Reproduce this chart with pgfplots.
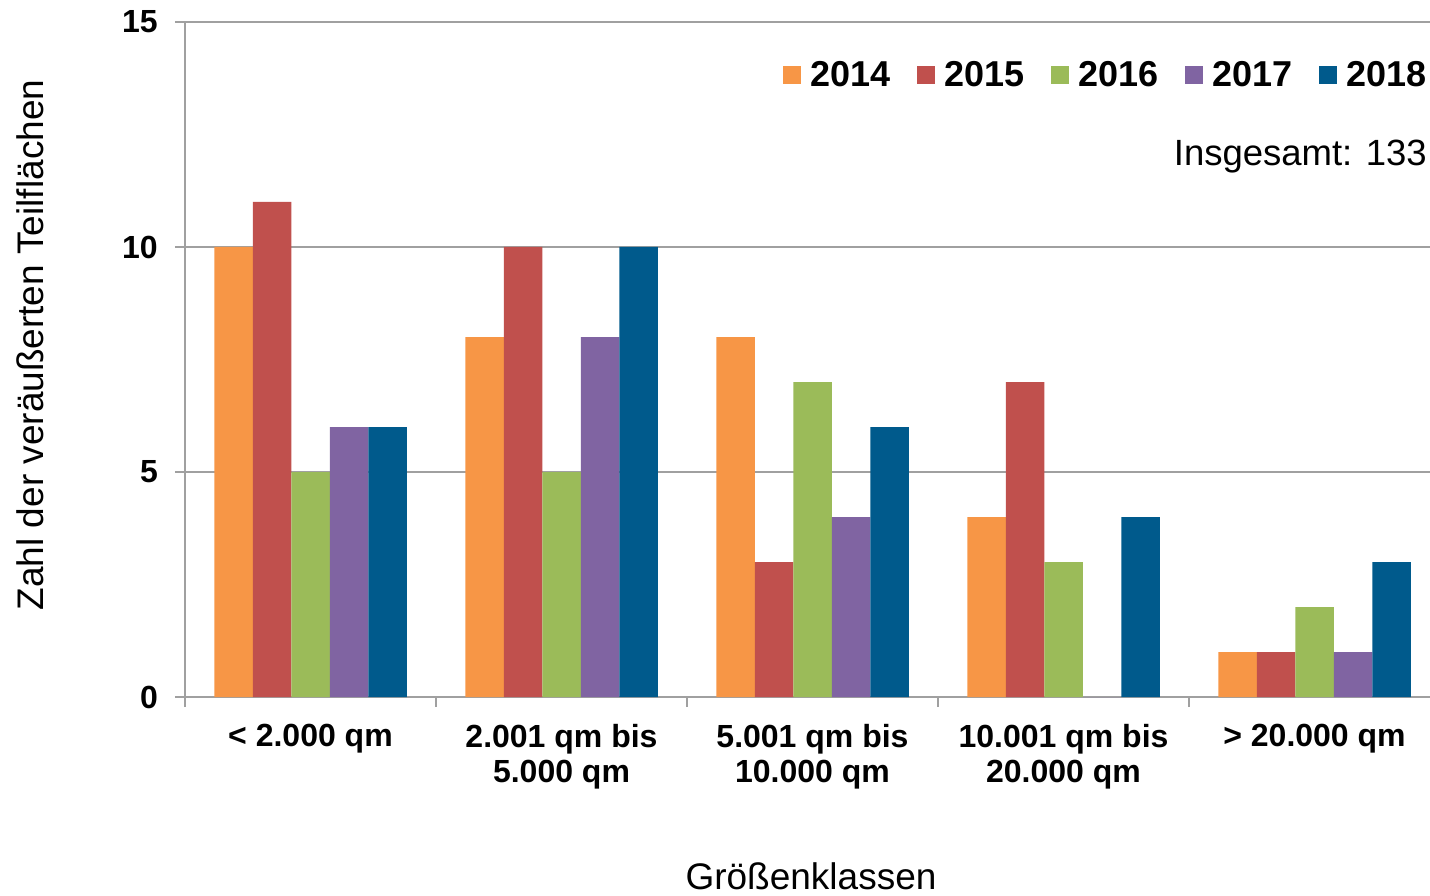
\documentclass[border=0pt]{standalone}
\usepackage{pgfplots}
\pgfplotsset{compat=1.18}
\usepackage{fontspec}
\setmainfont{Liberation Sans}
\definecolor{c14}{HTML}{F79646}
\definecolor{c15}{HTML}{C0504D}
\definecolor{c16}{HTML}{9BBB59}
\definecolor{c17}{HTML}{8064A2}
\definecolor{c18}{HTML}{005A8C}
\definecolor{gridgray}{HTML}{A0A0A0}
\begin{document}
\begin{tikzpicture}
\begin{axis}[
  at={(0pt,0pt)}, anchor=south west,
  scale only axis, width=1245pt, height=675pt,
  xmin=-0.5, xmax=4.46, ymin=0, ymax=15,
  ybar=0pt, bar width=38.5pt,
  axis x line=bottom, axis y line=left,
  axis line style={-, draw=gridgray, line width=1.5pt},
  ytick={0,5,10,15}, yticklabels={0,5,10,15},
  minor ytick={0,5,10,15},
  xtick={0,1,2,3,4},
  xticklabels={{< 2.000 qm},{2.001 qm bis\\5.000 qm},{5.001 qm bis\\10.000 qm},{10.001 qm bis\\20.000 qm},{> 20.000 qm}},
  minor xtick={-0.5,0.5,1.5,2.5,3.5},
  major tick length=0pt, minor tick length=10pt, tick align=outside,
  tick style={draw=gridgray, line width=1.5pt},
  ymajorgrids, major grid style={draw=gridgray, line width=1.5pt},
  xticklabel style={font=\fontsize{32}{35}\selectfont\bfseries, align=center, inner sep=0pt, anchor=north, yshift=-27pt},
  yticklabel style={font=\fontsize{32}{35}\selectfont\bfseries, anchor=east, inner sep=0pt, xshift=-27pt},
  ylabel={Zahl der veräußerten Teilflächen},
  ylabel style={font=\fontsize{37}{40}\selectfont, at={(axis description cs:-0.1140,0.5215)}, anchor=base, rotate=0},
  xlabel={Größenklassen},
  xlabel style={font=\fontsize{37}{40}\selectfont, at={(axis description cs:0.5028,-0.2859)}, anchor=base},
  legend columns=5,
  legend style={draw=none, fill=none, at={(axis description cs:0.9976,0.9215)}, anchor=east,
    font=\fontsize{36}{40}\selectfont\bfseries, inner sep=0pt, outer sep=0pt,
    nodes={inner sep=0pt},
    /tikz/every odd column/.append style={column sep=10pt},
    /tikz/every even column/.append style={column sep=26pt}},
  legend image code/.code={\fill[#1] (0pt,-9pt) rectangle (18pt,9pt);},
]
\addplot[fill=c14, draw=none] coordinates {(0,10) (1,8) (2,8) (3,4) (4,1)};
\addplot[fill=c15, draw=none] coordinates {(0,11) (1,10) (2,3) (3,7) (4,1)};
\addplot[fill=c16, draw=none] coordinates {(0,5) (1,5) (2,7) (3,3) (4,2)};
\addplot[fill=c17, draw=none] coordinates {(0,6) (1,8) (2,4) (3,0) (4,1)};
\addplot[fill=c18, draw=none] coordinates {(0,6) (1,10) (2,6) (3,4) (4,3)};
\legend{2014,2015,2016,2017,2018}
\node[anchor=base east, font=\fontsize{36.5}{40}\selectfont, inner sep=0pt] at (axis description cs:0.9976,0.7867) {Insgesamt: 133};
\end{axis}
\pgfresetboundingbox
\path[use as bounding box] (-185pt,-198pt) rectangle (1245pt,697pt);
\end{tikzpicture}
\end{document}
